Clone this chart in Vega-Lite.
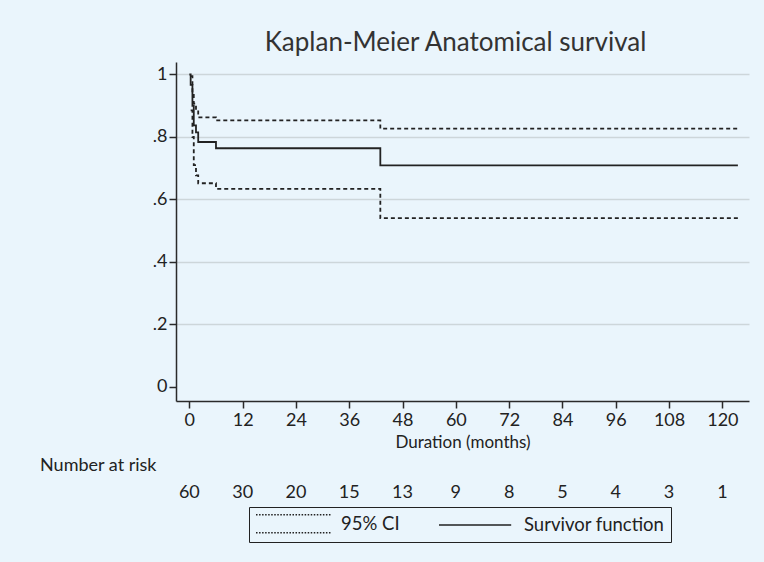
{
  "$schema": "https://vega.github.io/schema/vega-lite/v6.json",
  "width": 573,
  "height": 339,
  "autosize": {"type": "none"},
  "padding": {"left": 176, "top": 62, "right": 15, "bottom": 161},
  "background": "#eaf5fc",
  "title": {"text": "Kaplan-Meier Anatomical survival", "fontSize": 26, "font": "Lato", "fontWeight": "normal", "color": "#333333", "anchor": "middle", "offset": 6, "dx": -7},
  "config": {
    "view": {"stroke": null},
    "axis": {"domainColor": "#2a2a2a", "domainWidth": 1.5, "tickColor": "#2a2a2a", "tickWidth": 1.5, "tickSize": 7, "labelFontSize": 18, "labelColor": "#222222", "labelFont": "Lato", "titleFont": "Lato", "titleFontWeight": "normal", "titleColor": "#222222"},
    "text": {"font": "Lato", "color": "#222222"}
  },
  "datasets": {
    "curves": [
      {"t": 0, "s": 1, "line": "survival", "series": "Survivor function"},
      {"t": 0.3, "s": 0.967, "line": "survival", "series": "Survivor function"},
      {"t": 0.7, "s": 0.9, "line": "survival", "series": "Survivor function"},
      {"t": 1.0, "s": 0.837, "line": "survival", "series": "Survivor function"},
      {"t": 1.5, "s": 0.815, "line": "survival", "series": "Survivor function"},
      {"t": 2.0, "s": 0.784, "line": "survival", "series": "Survivor function"},
      {"t": 6.0, "s": 0.764, "line": "survival", "series": "Survivor function"},
      {"t": 43.0, "s": 0.709, "line": "survival", "series": "Survivor function"},
      {"t": 123.5, "s": 0.709, "line": "survival", "series": "Survivor function"},
      {"t": 0.3, "s": 0.995, "line": "upper", "series": "95% CI"},
      {"t": 0.7, "s": 0.94, "line": "upper", "series": "95% CI"},
      {"t": 1.0, "s": 0.907, "line": "upper", "series": "95% CI"},
      {"t": 1.5, "s": 0.885, "line": "upper", "series": "95% CI"},
      {"t": 2.0, "s": 0.863, "line": "upper", "series": "95% CI"},
      {"t": 6.0, "s": 0.853, "line": "upper", "series": "95% CI"},
      {"t": 43.0, "s": 0.827, "line": "upper", "series": "95% CI"},
      {"t": 123.5, "s": 0.827, "line": "upper", "series": "95% CI"},
      {"t": 0.3, "s": 0.885, "line": "lower", "series": "95% CI"},
      {"t": 0.7, "s": 0.8, "line": "lower", "series": "95% CI"},
      {"t": 1.0, "s": 0.71, "line": "lower", "series": "95% CI"},
      {"t": 1.5, "s": 0.677, "line": "lower", "series": "95% CI"},
      {"t": 2.0, "s": 0.652, "line": "lower", "series": "95% CI"},
      {"t": 6.0, "s": 0.634, "line": "lower", "series": "95% CI"},
      {"t": 43.0, "s": 0.54, "line": "lower", "series": "95% CI"},
      {"t": 123.5, "s": 0.54, "line": "lower", "series": "95% CI"}
    ],
    "risk": [
      {"t": 0, "n": 60}, {"t": 12, "n": 30}, {"t": 24, "n": 20}, {"t": 36, "n": 15},
      {"t": 48, "n": 13}, {"t": 60, "n": 9}, {"t": 72, "n": 8}, {"t": 84, "n": 5},
      {"t": 96, "n": 4}, {"t": 108, "n": 3}, {"t": 120, "n": 1}
    ],
    "label": [{"text": "Number at risk"}]
  },
  "layer": [
    {
      "data": {"name": "curves"},
      "mark": {"type": "line", "interpolate": "step-after", "strokeWidth": 1.8, "color": "#222222"},
      "encoding": {
        "x": {"field": "t", "type": "quantitative", "scale": {"domain": [-3, 126], "nice": false, "zero": false},
          "axis": {"values": [0, 12, 24, 36, 48, 60, 72, 84, 96, 108, 120], "title": "Duration  (months)", "titleFontSize": 17, "labelPadding": 3, "titlePadding": 5, "grid": false}},
        "y": {"field": "s", "type": "quantitative", "scale": {"domain": [-0.045, 1.04], "nice": false, "zero": false},
          "axis": {"values": [0, 0.2, 0.4, 0.6, 0.8, 1], "title": null, "labelPadding": 2, "grid": true, "gridColor": "#cdd6da", "gridWidth": 1.5,
            "gridOpacity": {"condition": {"test": "datum.value == 0", "value": 0}, "value": 1},
            "labelExpr": "datum.value == 0 ? '0' : datum.value == 1 ? '1' : replace(format(datum.value, '.1f'), '0.', '.')"}},
        "detail": {"field": "line"},
        "strokeDash": {"field": "series", "type": "nominal",
          "scale": {"domain": ["95% CI", "Survivor function"], "range": [[4, 3], [1, 0]]},
          "legend": {"title": null, "orient": "none", "legendX": 73, "legendY": 445, "direction": "horizontal",
            "strokeColor": "#222222", "padding": 6, "labelFontSize": 18.5, "labelFont": "Lato", "labelColor": "#222222",
            "symbolType": "M-1,0H6.6", "symbolSize": 361, "symbolStrokeWidth": 1.5, "symbolStrokeColor": "#222222", "columnPadding": 36, "labelOffset": 65,
            "encode": {"symbols": {"update": {
              "shape": {"signal": "datum.label == '95% CI' ? 'M-1,-0.95h0.16M-0.68,-0.95h0.16M-0.36,-0.95h0.16M-0.04,-0.95h0.16M0.28,-0.95h0.16M0.6,-0.95h0.16M0.92,-0.95h0.16M1.24,-0.95h0.16M1.56,-0.95h0.16M1.88,-0.95h0.16M2.2,-0.95h0.16M2.52,-0.95h0.16M2.84,-0.95h0.16M3.16,-0.95h0.16M3.48,-0.95h0.16M3.8,-0.95h0.16M4.12,-0.95h0.16M4.44,-0.95h0.16M4.76,-0.95h0.16M5.08,-0.95h0.16M5.4,-0.95h0.16M5.72,-0.95h0.16M6.04,-0.95h0.16M6.36,-0.95h0.16M6.68,-0.95h0.16M-1,0.95h0.16M-0.68,0.95h0.16M-0.36,0.95h0.16M-0.04,0.95h0.16M0.28,0.95h0.16M0.6,0.95h0.16M0.92,0.95h0.16M1.24,0.95h0.16M1.56,0.95h0.16M1.88,0.95h0.16M2.2,0.95h0.16M2.52,0.95h0.16M2.84,0.95h0.16M3.16,0.95h0.16M3.48,0.95h0.16M3.8,0.95h0.16M4.12,0.95h0.16M4.44,0.95h0.16M4.76,0.95h0.16M5.08,0.95h0.16M5.4,0.95h0.16M5.72,0.95h0.16M6.04,0.95h0.16M6.36,0.95h0.16M6.68,0.95h0.16' : 'M-1,0H6.6'"}}}}}}
      }
    },
    {
      "data": {"name": "risk"},
      "mark": {"type": "text", "fontSize": 18, "baseline": "middle"},
      "encoding": {
        "x": {"field": "t", "type": "quantitative", "scale": {"domain": [-3, 126], "nice": false, "zero": false}},
        "y": {"datum": -0.34, "type": "quantitative", "scale": {"domain": [-0.045, 1.04], "nice": false, "zero": false}},
        "text": {"field": "n"}
      }
    },
    {
      "data": {"name": "label"},
      "mark": {"type": "text", "fontSize": 18, "baseline": "middle", "align": "center"},
      "encoding": {
        "x": {"datum": -20.5, "type": "quantitative", "scale": {"domain": [-3, 126], "nice": false, "zero": false}},
        "y": {"datum": -0.253, "type": "quantitative", "scale": {"domain": [-0.045, 1.04], "nice": false, "zero": false}},
        "text": {"field": "text"}
      }
    }
  ]
}
